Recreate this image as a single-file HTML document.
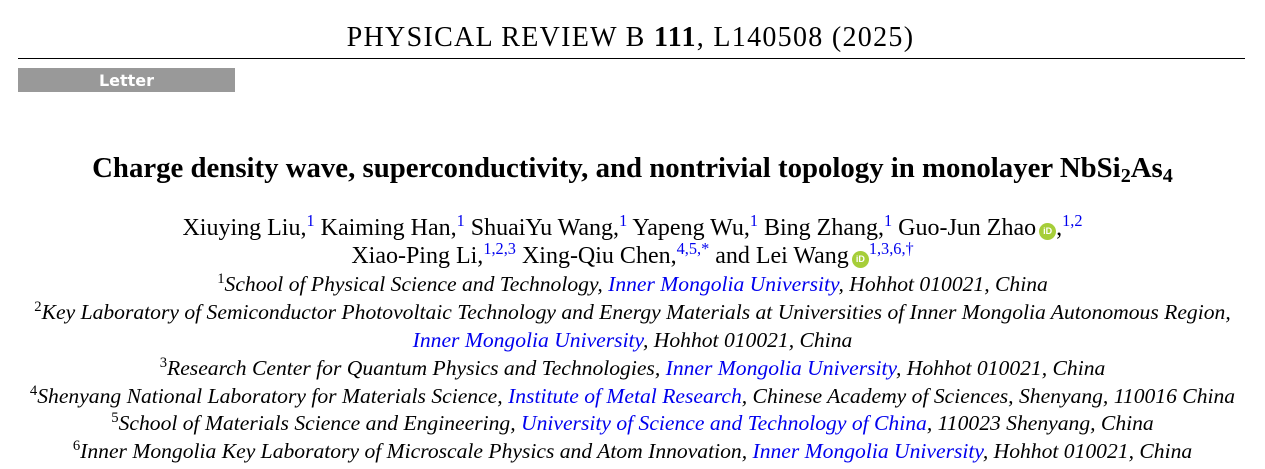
<!DOCTYPE html>
<html><head><meta charset="utf-8"><style>
body{margin:0;width:1265px;height:469px;background:#fff;overflow:hidden;font-family:"Liberation Serif",serif;color:#000;position:relative}
.l{position:absolute;left:0;width:1265px;text-align:center;white-space:nowrap}
sup{font-size:0.68em;vertical-align:0;position:relative;top:-0.55em;color:#00e}
.b{color:#00e}
.o{display:inline-block;width:17px;height:17px;border-radius:50%;background:#a6ce39;color:#fff;font:bold 9px "Liberation Sans",sans-serif;line-height:17px;text-align:center;vertical-align:1px;margin-left:3px}
.aff{font-size:21.6px;font-style:italic}
</style></head><body>
<div class="l" style="top:22px;font-size:28px;letter-spacing:1.3px;left:-2px">PHYSICAL REVIEW B <b>111</b>, L140508 (2025)</div>
<div style="position:absolute;left:18px;top:58px;width:1227px;height:1px;background:#000"></div>
<div style="position:absolute;left:18px;top:68px;width:217px;height:24px;background:#999;color:#fff;font:bold 16px 'DejaVu Sans',sans-serif;line-height:25px;text-align:center;">Letter</div>
<div class="l" style="top:152px;font-size:28.8px;font-weight:bold">Charge density wave, superconductivity, and nontrivial topology in monolayer NbSi<span style="font-size:0.7em;vertical-align:-0.25em">2</span>As<span style="font-size:0.7em;vertical-align:-0.25em">4</span></div>
<div class="l" style="top:215px;font-size:24px">Xiuying Liu,<sup>1</sup> Kaiming Han,<sup>1</sup> ShuaiYu Wang,<sup>1</sup> Yapeng Wu,<sup>1</sup> Bing Zhang,<sup>1</sup> Guo-Jun Zhao<span class="o">iD</span>,<sup>1,2</sup></div>
<div class="l" style="top:243px;font-size:24px">Xiao-Ping Li,<sup>1,2,3</sup> Xing-Qiu Chen,<sup>4,5,*</sup> and Lei Wang<span class="o">iD</span><sup>1,3,6,†</sup></div>
<div class="l aff" style="top:272px"><sup style="color:#000;font-style:normal">1</sup>School of Physical Science and Technology, <span class="b">Inner Mongolia University</span>, Hohhot 010021, China</div>
<div class="l aff" style="top:300px"><sup style="color:#000;font-style:normal">2</sup>Key Laboratory of Semiconductor Photovoltaic Technology and Energy Materials at Universities of Inner Mongolia Autonomous Region,</div>
<div class="l aff" style="top:328px"><span class="b">Inner Mongolia University</span>, Hohhot 010021, China</div>
<div class="l aff" style="top:356px"><sup style="color:#000;font-style:normal">3</sup>Research Center for Quantum Physics and Technologies, <span class="b">Inner Mongolia University</span>, Hohhot 010021, China</div>
<div class="l aff" style="top:384px"><sup style="color:#000;font-style:normal">4</sup>Shenyang National Laboratory for Materials Science, <span class="b">Institute of Metal Research</span>, Chinese Academy of Sciences, Shenyang, 110016 China</div>
<div class="l aff" style="top:411px"><sup style="color:#000;font-style:normal">5</sup>School of Materials Science and Engineering, <span class="b">University of Science and Technology of China</span>, 110023 Shenyang, China</div>
<div class="l aff" style="top:439px"><sup style="color:#000;font-style:normal">6</sup>Inner Mongolia Key Laboratory of Microscale Physics and Atom Innovation, <span class="b">Inner Mongolia University</span>, Hohhot 010021, China</div>
</body></html>
